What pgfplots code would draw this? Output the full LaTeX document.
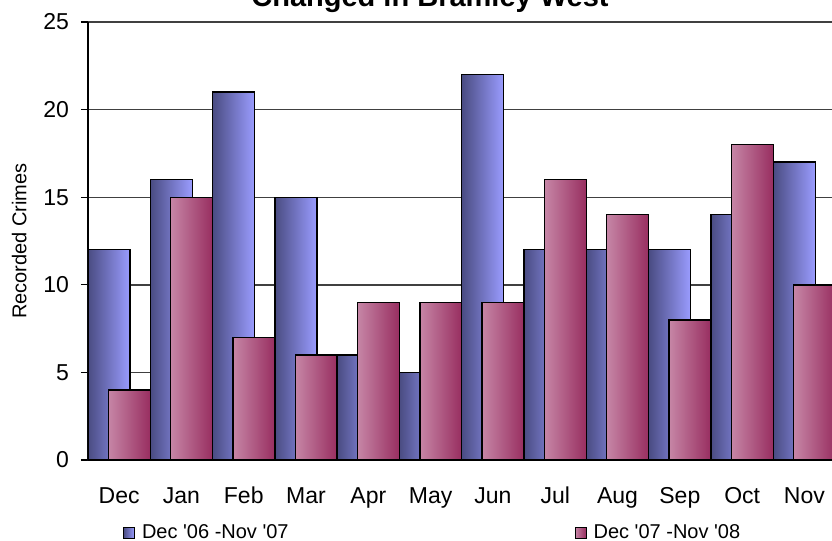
\documentclass[border=0pt]{standalone}
\usepackage{pgfplots}
\pgfplotsset{compat=1.18}
\usepackage{fontspec}
\setmainfont{Liberation Sans}
\definecolor{bluedark}{RGB}{74,76,130}
\definecolor{bluelight}{RGB}{154,156,255}
\definecolor{pinklight}{RGB}{198,134,166}
\definecolor{pinkdark}{RGB}{152,46,96}
\pgfplotsset{
  bluebar/.style={ybar, bar width=0.674, bar shift=-0.163, draw=black, line width=0.7pt,
    left color=bluedark, right color=bluelight, forget plot},
  pinkbar/.style={ybar, bar width=0.674, bar shift=0.163, draw=black, line width=0.7pt,
    left color=pinklight, right color=pinkdark, forget plot},
}
\begin{document}
\begin{tikzpicture}
\path[use as bounding box, clip] (0pt,0pt) rectangle (416pt,-270.5pt);
\fill[white] (0pt,0pt) rectangle (416pt,-270.5pt);
\node[anchor=base, font=\fontsize{14.5}{17}\selectfont\bfseries] at (215pt,-3pt) {Changed in Bramley West};
\begin{axis}[
  scale only axis,
  width=373.8pt, height=219pt,
  at={(44pt,-230pt)}, anchor=south west,
  xmin=-0.5, xmax=11.5, ymin=0, ymax=25,
  axis lines=left,
  axis line style={-, black, line width=0.7pt},
  ytick={0,5,10,15,20,25},
  xtick={0,...,11},
  xticklabels={Dec,Jan,Feb,Mar,Apr,May,Jun,Jul,Aug,Sep,Oct,Nov},
  minor xtick={-0.5,0.5,...,11.5},
  tick align=outside,
  major tick length=3.5pt, minor tick length=3.5pt,
  xtick style={draw=none},
  minor x tick style={black, line width=0.6pt},
  ytick style={black, line width=0.6pt},
  ymajorgrids,
  major grid style={black!75, line width=0.7pt},
  /pgf/number format/assume math mode=true,
  ticklabel style={font=\fontsize{11.5}{13}\selectfont},
  xticklabel style={text height=8.5pt, text depth=2.5pt, yshift=-6pt},
  yticklabel style={xshift=-2.5pt},
  ylabel={Recorded Crimes},
  ylabel style={font=\fontsize{10}{12}\selectfont, at={(axis description cs:-0.092,0.5)}, anchor=center},
  legend style={at={(0.461,-0.166)}, anchor=center, draw=none, fill=none,
    font=\fontsize{10}{12}\selectfont, legend columns=2,
    nodes={inner sep=1pt},
    /tikz/every odd column/.append style={column sep=2.5pt},
    /tikz/every even column/.append style={column sep=142pt}},
]
\addlegendimage{legend image code/.code={\draw[draw=black, line width=0.5pt, left color=bluedark, right color=bluelight] (0pt,-2.75pt) rectangle (5.5pt,2.75pt);}}
\addlegendentry{Dec \textquotesingle 06 -Nov \textquotesingle 07}
\addlegendimage{legend image code/.code={\draw[draw=black, line width=0.5pt, left color=pinklight, right color=pinkdark] (0pt,-2.75pt) rectangle (5.5pt,2.75pt);}}
\addlegendentry{Dec \textquotesingle 07 -Nov \textquotesingle 08}
% Dec '06 - Nov '07
\addplot[bluebar] coordinates {(0,12)};
\addplot[bluebar] coordinates {(1,16)};
\addplot[bluebar] coordinates {(2,21)};
\addplot[bluebar] coordinates {(3,15)};
\addplot[bluebar] coordinates {(4,6)};
\addplot[bluebar] coordinates {(5,5)};
\addplot[bluebar] coordinates {(6,22)};
\addplot[bluebar] coordinates {(7,12)};
\addplot[bluebar] coordinates {(8,12)};
\addplot[bluebar] coordinates {(9,12)};
\addplot[bluebar] coordinates {(10,14)};
\addplot[bluebar] coordinates {(11,17)};
% Dec '07 - Nov '08
\addplot[pinkbar] coordinates {(0,4)};
\addplot[pinkbar] coordinates {(1,15)};
\addplot[pinkbar] coordinates {(2,7)};
\addplot[pinkbar] coordinates {(3,6)};
\addplot[pinkbar] coordinates {(4,9)};
\addplot[pinkbar] coordinates {(5,9)};
\addplot[pinkbar] coordinates {(6,9)};
\addplot[pinkbar] coordinates {(7,16)};
\addplot[pinkbar] coordinates {(8,14)};
\addplot[pinkbar] coordinates {(9,8)};
\addplot[pinkbar] coordinates {(10,18)};
\addplot[pinkbar] coordinates {(11,10)};
\end{axis}
\end{tikzpicture}
\end{document}
